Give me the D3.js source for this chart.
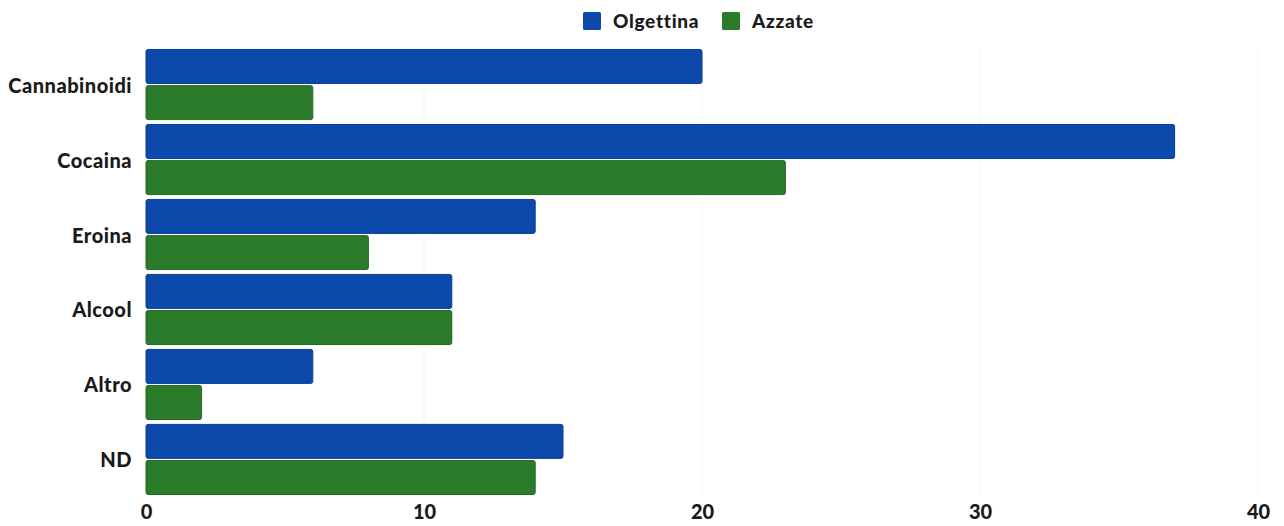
<!DOCTYPE html>
<html><head><meta charset="utf-8">
<script src="https://cdn.jsdelivr.net/npm/d3@7"></script>
<style>
html,body{margin:0;padding:0;background:#fff;}
text{font-family:"Lato","DejaVu Sans",sans-serif;font-weight:900;fill:#1a1a1a;}
</style></head>
<body><svg id="c" width="1284" height="526"></svg>
<script>
const categories = ["Cannabinoidi","Cocaina","Eroina","Alcool","Altro","ND"];
const seriesNames = ["Olgettina","Azzate"];
const olgettina = [20,37,14,11,6,15];
const azzate = [6,23,8,11,2,14];
const xTicks = [0,10,20,30,40];
const colors = ["#0b4aab","#2a7b2a"];
const strokes = ["#0a3f95","#246a24"];

const svg = d3.select("#c");
const margin = {left:146, right:26, top:48, bottom:30};
const W = 1284, H = 526;
const x = d3.scaleLinear().domain([0,40]).range([margin.left, W-margin.right]);
const y = d3.scaleBand().domain(categories).range([margin.top, H-margin.bottom]).paddingInner(0.065).paddingOuter(0.02);
const y1 = d3.scaleBand().domain(seriesNames).range([0, y.bandwidth()]).paddingInner(0.06);

// faint gridlines
svg.append("g").selectAll("line").data(xTicks.slice(1)).join("line")
  .attr("x1",d=>x(d)).attr("x2",d=>x(d)).attr("y1",margin.top).attr("y2",H-margin.bottom)
  .attr("stroke","#f5f5f5").attr("stroke-width",1);

const data = categories.map((c,i)=>({cat:c, vals:[olgettina[i], azzate[i]]}));
const g = svg.append("g");
data.forEach(d=>{
  d.vals.forEach((v,k)=>{
    g.append("rect")
      .attr("x", x(0)).attr("y", y(d.cat)+y1(seriesNames[k]))
      .attr("width", x(v)-x(0)).attr("height", y1.bandwidth())
      .attr("rx",2).attr("ry",2)
      .attr("fill", colors[k]).attr("stroke", strokes[k]).attr("stroke-width",1);
  });
});

// y labels
const ya = svg.append("g").attr("transform",`translate(${margin.left},0)`)
  .call(d3.axisLeft(y).tickSize(0).tickPadding(14));
ya.select(".domain").remove();
ya.selectAll("text").attr("font-size",20).style("font-family","Lato, sans-serif").style("font-weight",900)
  .style("letter-spacing","0.5px").attr("fill","#1a1a1a").attr("dy","0.4em");

// x axis
const xa = svg.append("g").attr("transform",`translate(0,${H-margin.bottom})`)
  .call(d3.axisBottom(x).tickValues(xTicks).tickSize(0).tickPadding(9));
xa.select(".domain").remove();
xa.selectAll("text").attr("font-size",20).style("font-family","Lato, sans-serif").style("font-weight",900).attr("fill","#1a1a1a");

// legend
const leg = svg.append("g");
const legX = [583, 722];
seriesNames.forEach((n,k)=>{
  leg.append("rect").attr("x",legX[k]).attr("y",12).attr("width",18).attr("height",18).attr("rx",1.5)
    .attr("fill",colors[k]);
  leg.append("text").attr("x",legX[k]+30).attr("y",28).attr("font-size",19)
    .style("letter-spacing","0.7px").text(n);
});
</script></body></html>
